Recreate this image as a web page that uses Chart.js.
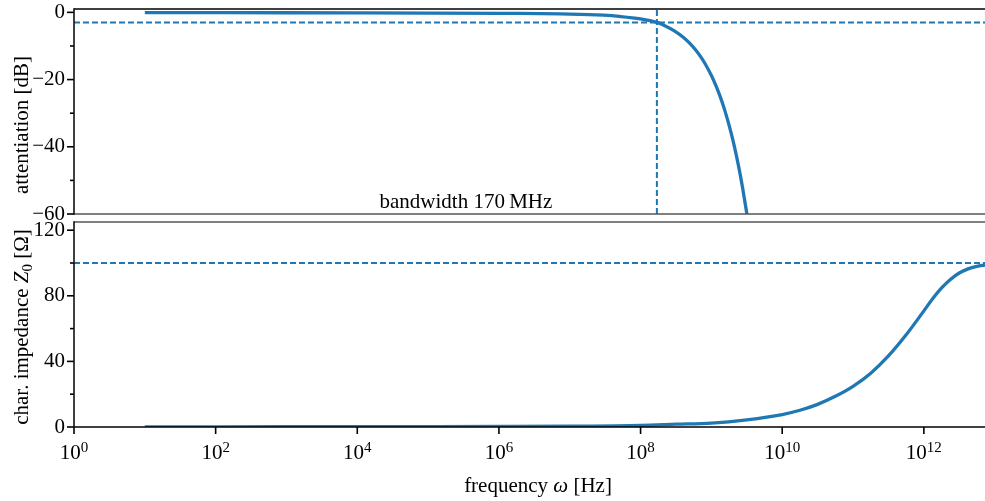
<!DOCTYPE html>
<html>
<head>
<meta charset="utf-8">
<script src="https://cdn.jsdelivr.net/npm/chart.js@4.4.1/dist/chart.umd.min.js"></script>
<style>
  html, body { margin: 0; padding: 0; background: #fff; overflow: hidden; }
  #wrap { position: relative; width: 985px; height: 501px; }
  canvas { position: absolute; left: 0; }
  #attChart { top: 0; z-index: 2; }
  #zChart { top: 200px; z-index: 1; }
</style>
</head>
<body>
<div id="wrap">
  <canvas id="attChart" width="985" height="236"></canvas>
  <canvas id="zChart" width="985" height="301"></canvas>
</div>
<script>
// ---- data ----
const BANDWIDTH_HZ = 170e6;        // -3 dB bandwidth
const CUTOFF_DB = -3;
const Z_NOMINAL = 100;             // characteristic impedance limit, ohms

const freqAtt = [1e1, 1e2, 1e3, 1e4, 1e5, 1e6, 1e7, 3e7, 5e7, 1e8, 1.7e8, 2.2e8, 3e8, 4e8, 5e8, 6e8, 7e8, 8e8,
                 1e9, 1.15e9, 1.3e9, 1.45e9, 1.6e9, 1.8e9, 2e9, 2.25e9, 2.5e9, 2.75e9, 3.1e9, 3.2e9];
const attenuationDb = [-0.1, -0.1, -0.12, -0.15, -0.2, -0.3, -0.5, -0.85, -1.2, -1.95, -3.0, -3.95, -5.5, -7.4, -9.3, -11.2, -13.1, -15.0,
                       -18.8, -21.65, -24.5, -27.35, -30.2, -34.0, -37.8, -42.55, -47.3, -52.05, -58.7, -60.6];

const freqZ = [1e1, 1e3, 1e5, 1e6, 1e7, 1e8, 3.16e8, 1e9, 3.16e9, 1e10, 1.78e10, 3.16e10, 5.62e10, 1e11, 1.78e11, 3.16e11,
               5.62e11, 1e12, 1.33e12, 1.78e12, 2.37e12, 3.16e12, 4.22e12, 5.62e12, 7.3e12];
const impedanceOhm = [0.1, 0.15, 0.2, 0.3, 0.5, 1.0, 1.7, 2.4, 4.4, 7.6, 10.2, 13.8, 18.7, 24.8, 32.8, 43.3,
                      56.2, 70.8, 78.2, 84.8, 90.0, 93.9, 96.4, 97.9, 98.8];

const freqTicks = [1e0, 1e2, 1e4, 1e6, 1e8, 1e10, 1e12];
const attTicksMajor = [-60, -40, -20, 0];
const attTicksMinor = [-50, -30, -10];
const zTicksMajor = [0, 40, 80, 120];
const zTicksMinor = [20, 60, 100];

// ---- ranges & style ----
const X_MIN = 1, X_MAX = 7.3e12;
const ATT_MIN = -60, ATT_MAX = 1;
const Z_MIN = 0, Z_MAX = 125;
const BLUE = '#1f77b4';
const DASH = [6, 3];
const SERIF = '"Liberation Serif", "Times New Roman", serif';
const FONT_PX = 21;

const signed = v => (v < 0 ? '\u2212' : '') + Math.abs(v);
const pts = (xs, ys) => xs.map((x, i) => ({ x, y: ys[i] }));

const REG = `${FONT_PX}px ${SERIF}`;
const ITAL = `italic ${FONT_PX}px ${SERIF}`;
const SMALL = `15px ${SERIF}`;

// Spines, tick marks and free text drawn on top of the datasets
function decorPlugin(cfg) {
  return {
    id: 'decor',
    afterDatasetsDraw(chart) {
      const ctx = chart.ctx, a = chart.chartArea;
      const xs = chart.scales.x, ys = chart.scales.y;
      ctx.save();
      ctx.lineCap = 'butt';
      ctx.strokeStyle = '#000';
      ctx.lineWidth = 1.6;
      const tick = (v, len) => {
        const y = ys.getPixelForValue(v);
        ctx.beginPath(); ctx.moveTo(a.left - len, y); ctx.lineTo(a.left, y); ctx.stroke();
      };
      cfg.yMajor.forEach(v => tick(v, 7));
      cfg.yMinor.forEach(v => tick(v, 4));

      if (cfg.xMajor) {
        cfg.xMajor.forEach(v => {
          const x = xs.getPixelForValue(v);
          ctx.strokeStyle = '#000';
          ctx.beginPath(); ctx.moveTo(x, a.bottom); ctx.lineTo(x, a.bottom + 7); ctx.stroke();
          // label 10^n with a raised exponent
          const exp = String(Math.round(Math.log10(v)));
          ctx.font = REG; const wBase = ctx.measureText('10').width;
          ctx.font = SMALL; const wExp = ctx.measureText(exp).width;
          const left = x - (wBase + wExp) / 2;
          const base = a.bottom + cfg.xLabelDrop;
          ctx.fillStyle = '#000';
          ctx.textAlign = 'left'; ctx.textBaseline = 'alphabetic';
          ctx.font = REG; ctx.fillText('10', left, base);
          ctx.font = SMALL; ctx.fillText(exp, left + wBase, base - 7.5);
        });
      }
      const line = (x1, y1, x2, y2, color) => {
        ctx.strokeStyle = color;
        ctx.beginPath(); ctx.moveTo(x1, y1); ctx.lineTo(x2, y2); ctx.stroke();
      };
      line(a.left, a.top, a.right, a.top, cfg.topColor);
      line(a.left, a.bottom, a.right, a.bottom, cfg.bottomColor);
      line(a.left, a.top - 0.8, a.left, a.bottom + 0.8, '#111');

      ctx.fillStyle = '#000';
      (cfg.texts || []).forEach(t => t(ctx, chart));
      ctx.restore();
    }
  };
}

function runs(ctx, parts) {
  let total = 0;
  parts.forEach(p => { ctx.font = p.font; total += ctx.measureText(p.text).width; });
  return total;
}

function yTitle(parts, centerY) {
  return (ctx) => {
    ctx.save();
    ctx.translate(28, centerY);
    ctx.rotate(-Math.PI / 2);
    ctx.textBaseline = 'alphabetic';
    ctx.textAlign = 'left';
    let x = -runs(ctx, parts) / 2;
    parts.forEach(p => {
      ctx.font = p.font;
      ctx.fillText(p.text, x, p.dy || 0);
      x += ctx.measureText(p.text).width;
    });
    ctx.restore();
  };
}

function xTitle(parts, centerX, baseY) {
  return (ctx) => {
    ctx.save();
    ctx.textBaseline = 'alphabetic';
    ctx.textAlign = 'left';
    let x = centerX - runs(ctx, parts) / 2;
    parts.forEach(p => {
      ctx.font = p.font;
      ctx.fillText(p.text, x, baseY);
      x += ctx.measureText(p.text).width;
    });
    ctx.restore();
  };
}

const BW_LABEL = 'bandwidth ' + Math.round(BANDWIDTH_HZ / 1e6) + '\u2009MHz';
const BW_LABEL_POS = { x: 3.42e5, y: -58.2 };

const tickFont = { family: SERIF, size: FONT_PX };
const noEdgePad = s => { s.paddingTop = 0; s.paddingBottom = 0; s.paddingLeft = 0; s.paddingRight = 0; };

// ---- attenuation panel (plot area y 9..214) ----
new Chart(document.getElementById('attChart'), {
  type: 'line',
  data: {
    datasets: [
      { label: 'bandwidth', data: [{ x: BANDWIDTH_HZ, y: ATT_MIN }, { x: BANDWIDTH_HZ, y: ATT_MAX }],
        borderColor: BLUE, borderWidth: 2, borderDash: DASH, pointRadius: 0, order: 0 },
      { label: '-3 dB', data: [{ x: X_MIN, y: CUTOFF_DB }, { x: X_MAX, y: CUTOFF_DB }],
        borderColor: BLUE, borderWidth: 2, borderDash: DASH, pointRadius: 0, order: 0 },
      { label: 'attenuation', data: pts(freqAtt, attenuationDb),
        borderColor: BLUE, borderWidth: 3.3, pointRadius: 0, cubicInterpolationMode: 'monotone', order: 1 }
    ]
  },
  options: {
    responsive: false, animation: false, devicePixelRatio: 1,
    layout: { padding: { top: 9, left: 0, right: 0, bottom: 0 } },
    plugins: { legend: { display: false }, tooltip: { enabled: false } },
    scales: {
      x: {
        type: 'logarithmic', min: X_MIN, max: X_MAX,
        grid: { display: false, drawTicks: false }, border: { display: false },
        ticks: { display: false },
        afterFit(s) { s.height = 22; noEdgePad(s); }
      },
      y: {
        min: ATT_MIN, max: ATT_MAX,
        afterBuildTicks(s) { s.ticks = attTicksMajor.map(v => ({ value: v })); },
        ticks: { font: tickFont, color: '#000', padding: 9, callback: v => signed(v) },
        grid: { display: false, drawTicks: false }, border: { display: false },
        afterFit(s) { s.width = 74; noEdgePad(s); }
      }
    }
  },
  plugins: [decorPlugin({
    yMajor: attTicksMajor, yMinor: attTicksMinor,
    topColor: '#000', bottomColor: '#555',
    texts: [
      yTitle([{ text: 'attentiation [dB]', font: REG }], 125),
      (ctx, chart) => {
        ctx.font = REG; ctx.textAlign = 'center'; ctx.textBaseline = 'alphabetic';
        ctx.fillText(BW_LABEL, chart.scales.x.getPixelForValue(BW_LABEL_POS.x),
                     chart.scales.y.getPixelForValue(BW_LABEL_POS.y));
      }
    ]
  })]
});

// ---- characteristic impedance panel (plot area y 222..427) ----
new Chart(document.getElementById('zChart'), {
  type: 'line',
  data: {
    datasets: [
      { label: 'Z nominal', data: [{ x: X_MIN, y: Z_NOMINAL }, { x: X_MAX, y: Z_NOMINAL }],
        borderColor: BLUE, borderWidth: 2, borderDash: DASH, pointRadius: 0, order: 0 },
      { label: 'Z0', data: pts(freqZ, impedanceOhm),
        borderColor: BLUE, borderWidth: 3.3, pointRadius: 0, cubicInterpolationMode: 'monotone', order: 1 }
    ]
  },
  options: {
    responsive: false, animation: false, devicePixelRatio: 1,
    layout: { padding: { top: 22, left: 0, right: 0, bottom: 0 } },
    plugins: { legend: { display: false }, tooltip: { enabled: false } },
    scales: {
      x: {
        type: 'logarithmic', min: X_MIN, max: X_MAX,
        afterBuildTicks(s) { s.ticks = freqTicks.map(v => ({ value: v })); },
        ticks: { display: false },
        grid: { display: false, drawTicks: false }, border: { display: false },
        afterFit(s) { s.height = 74; noEdgePad(s); }
      },
      y: {
        min: Z_MIN, max: Z_MAX,
        afterBuildTicks(s) { s.ticks = zTicksMajor.map(v => ({ value: v })); },
        ticks: { font: tickFont, color: '#000', padding: 9, callback: v => signed(v) },
        grid: { display: false, drawTicks: false }, border: { display: false },
        afterFit(s) { s.width = 74; noEdgePad(s); }
      }
    }
  },
  plugins: [decorPlugin({
    yMajor: zTicksMajor, yMinor: zTicksMinor, xMajor: freqTicks, xLabelDrop: 32,
    topColor: '#555', bottomColor: '#000',
    texts: [
      yTitle([
        { text: 'char. impedance ', font: REG },
        { text: 'Z', font: ITAL },
        { text: '0', font: SMALL, dy: 4 },
        { text: ' [\u03a9]', font: REG }
      ], 127),
      xTitle([
        { text: 'frequency ', font: REG },
        { text: '\u03c9', font: ITAL },
        { text: ' [Hz]', font: REG }
      ], 538, 292)
    ]
  })]
});
</script>
</body>
</html>
